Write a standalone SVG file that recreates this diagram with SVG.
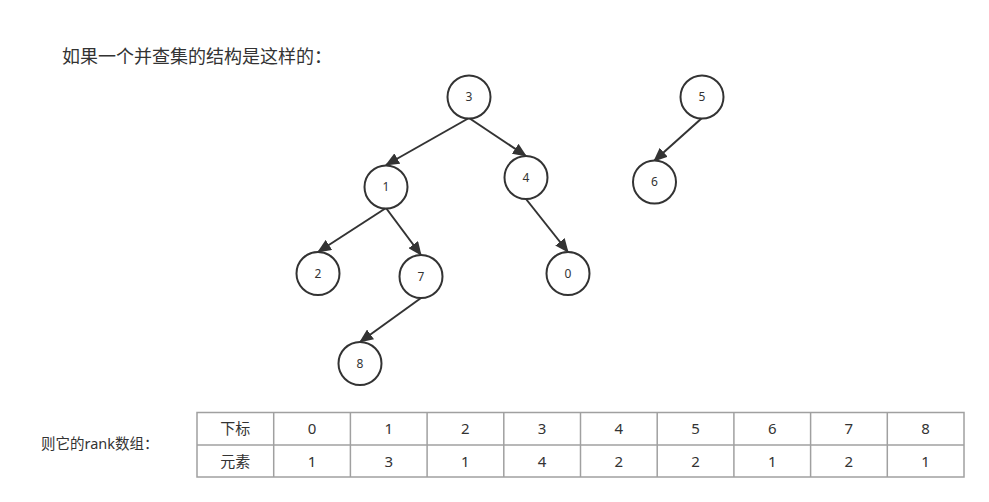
<svg xmlns="http://www.w3.org/2000/svg" width="989" height="502" viewBox="0 0 989 502">
<style>
.node circle{fill:#fff;stroke:#333;stroke-width:2}
.node text{font-family:"Noto Sans","Liberation Sans",sans-serif;font-size:12px;fill:#333;text-anchor:middle}
.edge{stroke:#333;stroke-width:2;fill:none;marker-end:url(#arr)}
.t{font-family:"Noto Sans","Noto Sans CJK SC",sans-serif;fill:#333}
.cell{font-family:"Noto Sans","Noto Sans CJK SC",sans-serif;font-size:15px;fill:#333;text-anchor:middle}
.grid{stroke:#a0a0a0;stroke-width:1.5;fill:none}
</style>
<defs>
<marker id="arr" markerUnits="userSpaceOnUse" markerWidth="14" markerHeight="12" refX="13" refY="6" orient="auto">
<path d="M0,0 L14,6 L0,12 Z" fill="#333"/>
</marker>
</defs>
<rect width="989" height="502" fill="#fff"/>
<text class="t" x="62" y="63" font-size="18">如果一个并查集的结构是这样的：</text>
<g id="connectors">
<line class="edge" x1="469" y1="118" x2="386" y2="165"/>
<line class="edge" x1="469" y1="118" x2="526" y2="156"/>
<line class="edge" x1="386" y1="208" x2="318" y2="252"/>
<line class="edge" x1="386" y1="208" x2="421" y2="255"/>
<line class="edge" x1="421" y1="298" x2="360" y2="342"/>
<line class="edge" x1="526" y1="199" x2="568" y2="252"/>
<line class="edge" x1="702" y1="118" x2="654" y2="161"/>
</g>
<g id="node3" class="node"><circle cx="469" cy="97" r="21.5"/><text x="469" y="101">3</text></g>
<g id="node1" class="node"><circle cx="386" cy="187" r="21.5"/><text x="386" y="191">1</text></g>
<g id="node4" class="node"><circle cx="526" cy="177.5" r="21.5"/><text x="526" y="181.5">4</text></g>
<g id="node2" class="node"><circle cx="318" cy="273.5" r="21.5"/><text x="318" y="277.5">2</text></g>
<g id="node7" class="node"><circle cx="421" cy="276.5" r="21.5"/><text x="421" y="280.5">7</text></g>
<g id="node8" class="node"><circle cx="360" cy="363.5" r="21.5"/><text x="360" y="367.5">8</text></g>
<g id="node0" class="node"><circle cx="568" cy="273.5" r="21.5"/><text x="568" y="277.5">0</text></g>
<g id="node5" class="node"><circle cx="702" cy="97" r="21.5"/><text x="702" y="101">5</text></g>
<g id="node6" class="node"><circle cx="654.5" cy="182" r="21.5"/><text x="654.5" y="186">6</text></g>
<text class="t" x="41" y="449" font-size="14.5">则它的rank数组：</text>
<g id="table">
<rect class="grid" x="197" y="412.5" width="767" height="64.5"/>
<line class="grid" x1="197" y1="445" x2="964" y2="445"/>
<line class="grid" x1="273.7" y1="412.5" x2="273.7" y2="477"/>
<line class="grid" x1="350.4" y1="412.5" x2="350.4" y2="477"/>
<line class="grid" x1="427.1" y1="412.5" x2="427.1" y2="477"/>
<line class="grid" x1="503.8" y1="412.5" x2="503.8" y2="477"/>
<line class="grid" x1="580.5" y1="412.5" x2="580.5" y2="477"/>
<line class="grid" x1="657.2" y1="412.5" x2="657.2" y2="477"/>
<line class="grid" x1="733.9" y1="412.5" x2="733.9" y2="477"/>
<line class="grid" x1="810.6" y1="412.5" x2="810.6" y2="477"/>
<line class="grid" x1="887.3" y1="412.5" x2="887.3" y2="477"/>
<g class="cell">
<text x="235.3" y="434">下标</text>
<text x="312" y="434">0</text>
<text x="388.7" y="434">1</text>
<text x="465.4" y="434">2</text>
<text x="542.1" y="434">3</text>
<text x="618.8" y="434">4</text>
<text x="695.5" y="434">5</text>
<text x="772.2" y="434">6</text>
<text x="848.9" y="434">7</text>
<text x="925.6" y="434">8</text>
<text x="235.3" y="467">元素</text>
<text x="312" y="467">1</text>
<text x="388.7" y="467">3</text>
<text x="465.4" y="467">1</text>
<text x="542.1" y="467">4</text>
<text x="618.8" y="467">2</text>
<text x="695.5" y="467">2</text>
<text x="772.2" y="467">1</text>
<text x="848.9" y="467">2</text>
<text x="925.6" y="467">1</text>
</g>
</g>
</svg>
